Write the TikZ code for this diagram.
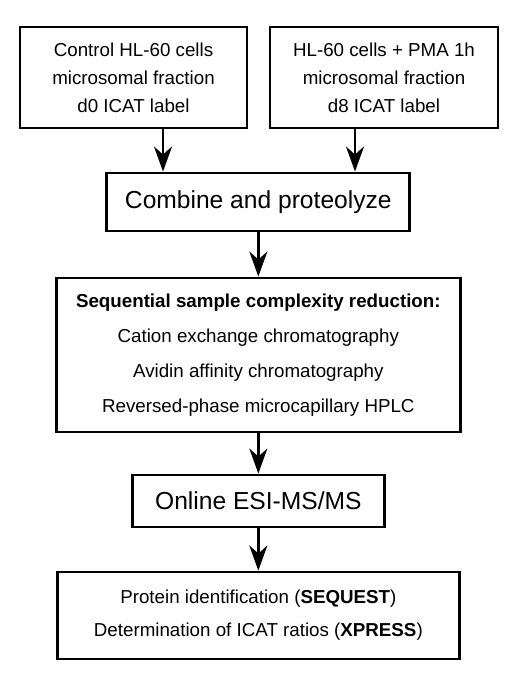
\documentclass[tikz,border=0pt]{standalone}
\usepackage{fontspec}
\setmainfont{Liberation Sans}
\usetikzlibrary{arrows.meta}

\tikzset{
    box/.style={draw, line width=2.5pt, align=center, inner sep=0pt,
        font=\fontsize{16}{24}\selectfont},
    bigbox/.style={box, font=\fontsize{21}{25}\selectfont},
    flow/.style={line width=2.5pt, -{Stealth[length=7.5mm, width=5.4mm, inset=2.4mm]}}
}

\begin{document}
\begin{tikzpicture}
    \useasboundingbox (0,0) rectangle (15.54,-20.55);

        \node[box, minimum width=6.81cm, minimum height=3.03cm] (ctrl) at (4.005,-2.325)
            {Control HL-60 cells\\microsomal fraction\\d0 ICAT label};
        \node[box, minimum width=6.84cm, minimum height=3.03cm] (pma) at (11.52,-2.325)
            {HL-60 cells + PMA 1h\\microsomal fraction\\d8 ICAT label};
        \node[bigbox, minimum width=9.09cm, minimum height=1.74cm] (comb) at (7.75,-6.06)
            {Combine and proteolyze};
        \node[box, font=\fontsize{16}{30}\selectfont, minimum width=12.12cm, minimum height=4.62cm] (seq) at (7.75,-10.65)
            {\textbf{Sequential sample complexity reduction:}\\Cation exchange chromatography\\Avidin affinity chromatography\\Reversed-phase microcapillary HPLC};
        \node[bigbox, minimum width=7.56cm, minimum height=1.56cm] (esi) at (7.75,-15.03)
            {Online ESI-MS/MS};
        \node[box, font=\fontsize{16}{28}\selectfont, minimum width=12.06cm, minimum height=2.61cm] (ident) at (7.75,-18.465)
            {Protein identification (\textbf{SEQUEST})\\Determination of ICAT ratios (\textbf{XPRESS})};

        \coordinate (a1) at (4.89,0);
        \coordinate (a2) at (10.65,0);

        % draw the arrows
        \draw[flow] (ctrl.south -| a1) -- (comb.north -| a1);
        \draw[flow] (pma.south -| a2) -- (comb.north -| a2);
        \draw[flow] (comb) -- (seq);
        \draw[flow] (seq) -- (esi);
        \draw[flow] (esi) -- (ident);

\end{tikzpicture}
\end{document}
